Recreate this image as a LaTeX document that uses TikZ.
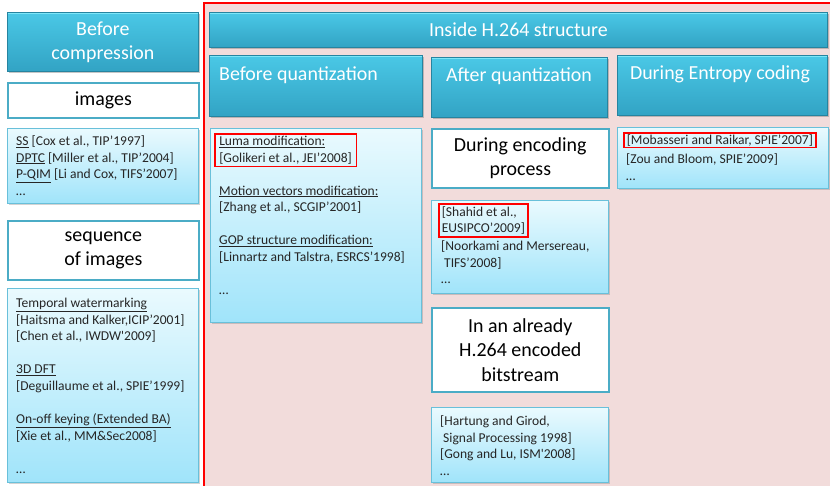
\documentclass[tikz,border=0pt]{standalone}
\usepackage{fontspec}
\setmainfont{Carlito}
\usetikzlibrary{shadows}
\definecolor{pinkbg}{RGB}{242,220,219}
\definecolor{hdtop}{RGB}{74,200,230}
\definecolor{hdbot}{RGB}{50,163,196}
\definecolor{hdedge}{RGB}{38,132,160}
\definecolor{hdlight}{RGB}{125,230,248}
\definecolor{lblborder}{RGB}{75,172,198}
\definecolor{reftop}{RGB}{234,250,254}
\definecolor{refbot}{RGB}{160,228,250}
\definecolor{refborder}{RGB}{105,192,218}
\definecolor{reftxt}{RGB}{38,38,38}
\newcommand\hdfont{\fontsize{20}{24}\selectfont}
\newcommand\lbfont{\fontsize{20}{24.5}\selectfont}
\newcommand\rffont{\fontsize{13.6}{16.6}\selectfont}
\newcommand\nl{\\\relax}
\newcommand\ul[1]{\underline{#1}}
\begin{document}
\begin{tikzpicture}[x=1bp,y=-1bp,
 hdr/.style={draw=hdedge, line width=0.8bp, top color=hdtop, bottom color=hdbot,
   drop shadow={shadow xshift=1.5bp,shadow yshift=-2bp,opacity=0.45},
   path picture={\draw[hdlight,line width=1.6bp]
     ([yshift=-0.8bp]path picture bounding box.north west) --
     ([yshift=-0.8bp]path picture bounding box.north east);},
   anchor=north west, inner sep=0pt, text=white, font=\hdfont, align=center},
 hdtext/.style={inner sep=0pt, text=white, font=\hdfont},
 lbl/.style={draw=lblborder, line width=1.6bp, fill=white, anchor=north west,
   inner sep=0pt, font=\lbfont, align=center, text=black},
 refbox/.style={draw=refborder, line width=0.8bp, top color=reftop, bottom color=refbot,
   drop shadow={shadow xshift=1.5bp,shadow yshift=-1.5bp,opacity=0.35},
   anchor=north west, inner sep=0pt},
 reftext/.style={anchor=north west, inner sep=0pt, align=left, font=\rffont, text=reftxt},
 hot/.style={draw=red, line width=1.6bp, inner ysep=2.5bp, anchor=north west,
   align=left, font=\rffont, text=reftxt}]
\useasboundingbox (0,0) rectangle (830,486);
% pink region with red frame
\fill[pinkbg] (204,3) rectangle (840,495);
\draw[red, line width=2.2bp] (204,495) -- (204,3) -- (840,3);

% left column
\node[hdr, minimum width=191bp, minimum height=59bp] (bc) at (7,12) {Before\\compression};
\node[lbl, minimum width=191bp, minimum height=35bp] (img) at (7,82) {images};
\node[refbox, minimum width=191bp, minimum height=75bp] (r1) at (7,128) {};
\node[reftext] (r1t) at (16,135.5) {\ul{SS} [Cox et al., TIP’1997]\nl
 \ul{DPTC} [Miller et al., TIP’2004]\nl
 \ul{P-QIM} [Li and Cox, TIFS’2007]\nl
 …};
\node[lbl, minimum width=191bp, minimum height=59bp] (seq) at (7,220) {sequence\\of images};
\node[refbox, minimum width=191bp, minimum height=194bp] (r2) at (7,288) {};
\node[reftext] (r2t) at (16,298) {\ul{Temporal watermarking}\nl
 [Haitsma and Kalker,ICIP’2001]\nl
 [Chen et al., IWDW\textquotesingle2009]\\[16.6bp]
 \ul{3D DFT}\nl
 [Deguillaume et al., SPIE’1999]\\[16.6bp]
 \ul{On-off keying (Extended BA)}\nl
 [Xie et al., MM\&Sec2008]\\[16.6bp]
 …};

% H.264 region
\node[hdr, minimum width=618bp, minimum height=35bp] (ins) at (209,12) {Inside H.264 structure};
\node[hdr, minimum width=213bp, minimum height=61bp] (bq) at (209,55) {};
\node[hdtext, anchor=base west] (bqt) at (219,81) {Before quantization};
\node[hdr, minimum width=176bp, minimum height=60bp] (aq) at (431,57) {};
\node[hdtext, anchor=base] (aqt) at (519,82) {After quantization};
\node[hdr, minimum width=210bp, minimum height=60bp] (ec) at (617,55) {};
\node[hdtext, anchor=base] (ect) at (720,80) {During Entropy coding};

% before quantization references
\node[refbox, minimum width=211bp, minimum height=194bp] (bqr) at (210,128) {};
\node[hot, inner xsep=4.5bp] (bqh) at (214,133) {\ul{Luma modification:}\nl
 [Golikeri et al., JEI’2008]};
\node[reftext] (bqrt) at (219,185.5) {\ul{Motion vectors modification:}\nl
 [Zhang et al., SCGIP’2001]\\[16.6bp]
 \ul{GOP structure modification:}\nl
 [Linnartz and Talstra, ESRCS’1998]\\[16.6bp]
 …};

% after quantization column
\node[lbl, minimum width=177bp, minimum height=59bp] (de) at (431,128) {During encoding\\process};
\node[refbox, minimum width=177bp, minimum height=93bp] (der) at (431,200) {};
\node[hot, inner xsep=3bp] (deh) at (438,203) {[Shahid et al.,\nl EUSIPCO’2009]};
\node[reftext] (dert) at (441,240.5) {[Noorkami and Mersereau,\nl
 \hspace*{3bp}TIFS’2008]\nl
 …};
\node[lbl, minimum width=177bp, minimum height=84bp] (ia) at (431,307) {In an already\\H.264 encoded\\bitstream};
\node[refbox, minimum width=177bp, minimum height=75bp] (iar) at (431,407) {};
\node[reftext] (iart) at (440,415.5) {[Hartung and Girod,\nl
 \hspace*{3bp}Signal Processing 1998]\nl
 [Gong and Lu, ISM\textquotesingle2008]\nl
 …};

% entropy coding column
\node[refbox, minimum width=211bp, minimum height=61bp] (ecr) at (617,127) {};
\node[hot, inner xsep=3bp, inner ysep=1.5bp] (ech) at (623,132) {[Mobasseri and Raikar, SPIE’2007]};
\node[reftext] (ecrt) at (626,153.5) {[Zou and Bloom, SPIE’2009]\nl
 …};
\end{tikzpicture}
\end{document}
